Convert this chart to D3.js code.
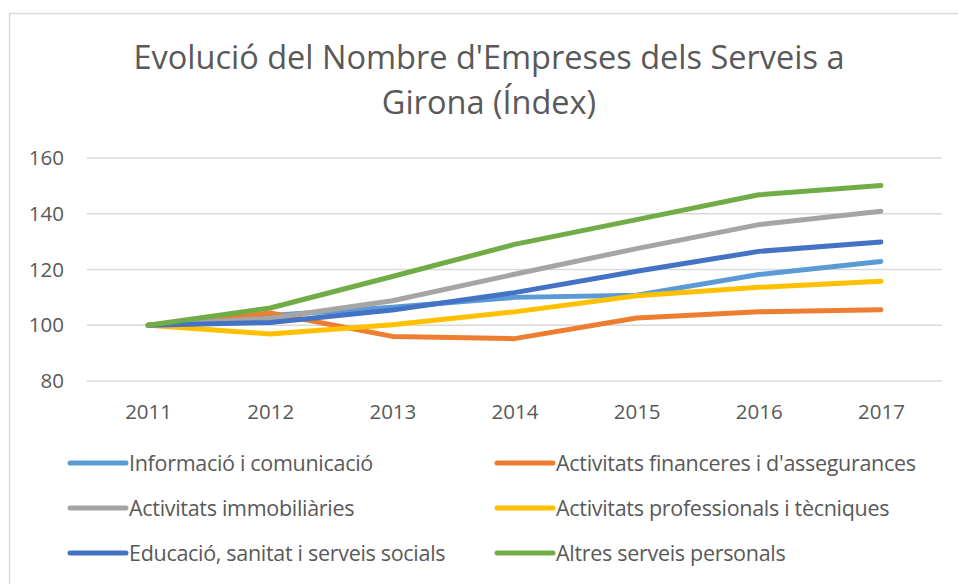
<!DOCTYPE html>
<html>
<head>
<meta charset="utf-8">
<script src="https://cdn.jsdelivr.net/npm/d3@7"></script>
<style>
    body { margin: 0; background: #fff; }
    svg { display: block; font-family: "Open Sans", Lato, sans-serif; }
    .axis text { fill: #595959; }
    .legend text { fill: #595959; }
</style>
</head>
<body>
<svg id="chart"></svg>
<script>
// Data
const years = ["2011", "2012", "2013", "2014", "2015", "2016", "2017"];
const seriesNames = [
    "Informació i comunicació",
    "Activitats financeres i d'assegurances",
    "Activitats immobiliàries",
    "Activitats professionals i tècniques",
    "Educació, sanitat i serveis socials",
    "Altres serveis personals",
];
const informacio = [100, 103.5, 106.5, 110, 110.8, 118.2, 122.9];
const financeres = [100, 104.4, 96, 95.2, 102.6, 104.8, 105.6];
const immobiliaries = [100, 102.5, 108.8, 118.3, 127.5, 136.1, 140.9];
const professionals = [100, 96.9, 100.2, 104.8, 110.6, 113.6, 115.8];
const educacio = [100, 101, 105.5, 111.7, 119.4, 126.5, 129.9];
const altres = [100, 106.2, 117.5, 129, 137.9, 146.8, 150.1];
const yTicks = [80, 100, 120, 140, 160];
const colors = ["#5b9bd5", "#ed7d31", "#a5a5a5", "#ffc000", "#4472c4", "#70ad47"];

const seriesValues = [informacio, financeres, immobiliaries, professionals, educacio, altres];
const series = seriesNames.map((name, i) => ({
    name: name,
    color: colors[i],
    values: seriesValues[i].map((v, j) => ({ year: years[j], value: v })),
}));

const width = 958, height = 584;
const margin = { top: 158, right: 16, bottom: 203, left: 87 };
const innerW = width - margin.left - margin.right;
const innerH = height - margin.top - margin.bottom;

const svg = d3.select("#chart").attr("width", width).attr("height", height);

// Chart area border (only the left/top edges are visible in the picture)
svg.append("rect")
    .attr("x", 9.5).attr("y", 13.5)
    .attr("width", width).attr("height", height)
    .attr("fill", "none")
    .attr("stroke", "#d9d9d9")
    .attr("stroke-width", 1.5);

// Title
const title = svg.append("text")
    .attr("text-anchor", "middle")
    .attr("fill", "#595959")
    .style("font-size", "32.5px");
title.append("tspan").attr("x", 489).attr("y", 69).text("Evolució del Nombre d'Empreses dels Serveis a");
title.append("tspan").attr("x", 489).attr("y", 114).text("Girona (Índex)");

const chart = svg.append("g").attr("transform", `translate(${margin.left},${margin.top})`);

// Scales
const xScale = d3.scalePoint().domain(years).range([0, innerW]).padding(0.5);
const yScale = d3.scaleLinear().domain([80, 160]).range([innerH, 0]);

// Gridlines
chart.append("g")
    .selectAll("line")
    .data(yTicks)
    .join("line")
    .attr("x1", 0).attr("x2", innerW)
    .attr("y1", d => yScale(d)).attr("y2", d => yScale(d))
    .attr("stroke", "#d9d9d9")
    .attr("stroke-width", 1.5);

// Axes (no domain line, no ticks)
const yAxis = d3.axisLeft(yScale).tickValues(yTicks).tickSize(0).tickPadding(23);
const xAxis = d3.axisBottom(xScale).tickSize(0).tickPadding(23);

chart.append("g").attr("class", "axis y-axis").call(yAxis)
    .attr("font-family", null)
    .attr("font-size", 20.5)
    .call(g => g.select(".domain").remove());

chart.append("g").attr("class", "axis x-axis")
    .attr("transform", `translate(0,${innerH})`)
    .call(xAxis)
    .attr("font-family", null)
    .attr("font-size", 20.5)
    .call(g => g.select(".domain").remove());

// Lines
const line = d3.line()
    .x(d => xScale(d.year))
    .y(d => yScale(d.value));

chart.selectAll(".series")
    .data(series)
    .join("path")
    .attr("class", "series")
    .attr("d", d => line(d.values))
    .attr("fill", "none")
    .attr("stroke", d => d.color)
    .attr("stroke-width", 5)
    .attr("stroke-linejoin", "round")
    .attr("stroke-linecap", "round");

// Legend: two columns, three rows
const legend = svg.append("g").attr("class", "legend");
const legendItems = legend.selectAll("g")
    .data(series)
    .join("g")
    .attr("transform", (d, i) => `translate(${i % 2 === 0 ? 70 : 497},${463 + Math.floor(i / 2) * 45})`);

legendItems.append("line")
    .attr("x1", 0).attr("x2", 56)
    .attr("stroke", d => d.color)
    .attr("stroke-width", 5)
    .attr("stroke-linecap", "round");

legendItems.append("text")
    .attr("x", 59)
    .attr("dy", "0.35em")
    .style("font-size", "21.5px")
    .style("letter-spacing", "-0.3px")
    .text(d => d.name);
</script>
</body>
</html>
